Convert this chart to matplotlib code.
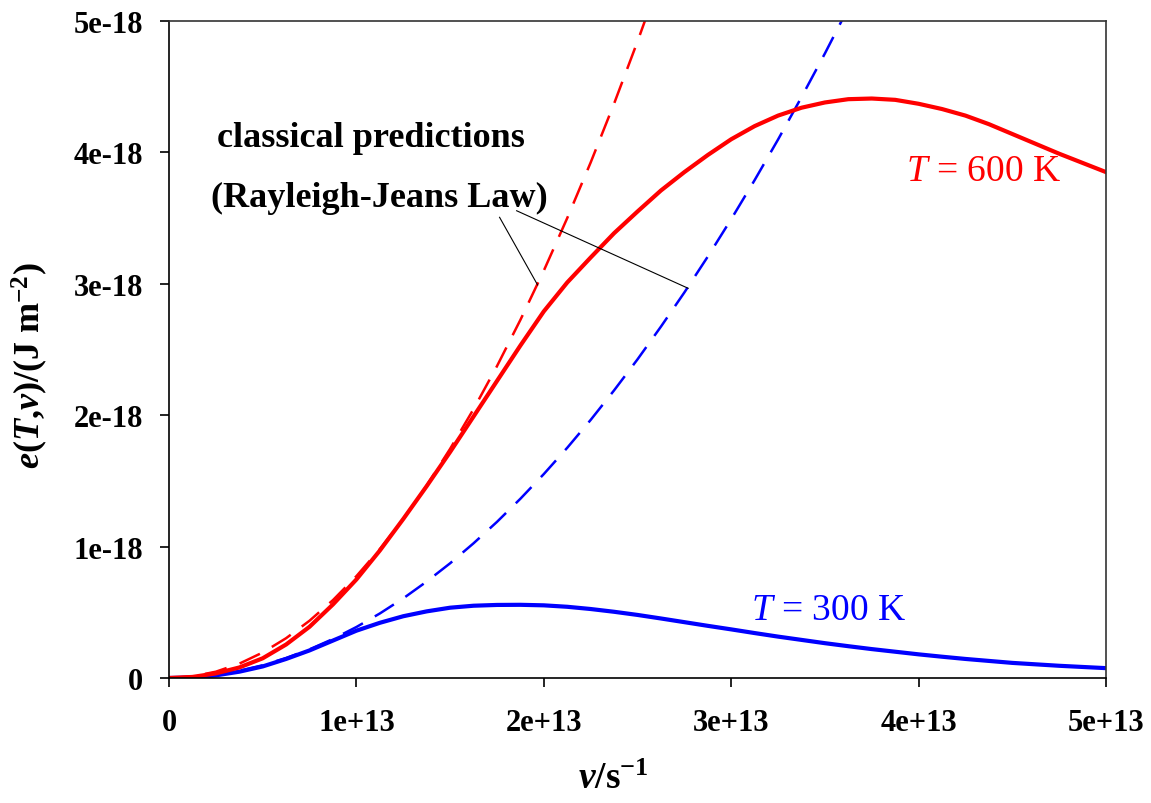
import numpy as np
import matplotlib
matplotlib.use('Agg')
import matplotlib.pyplot as plt

# frequency grid (units of 1e13 s^-1) and curves (units of 1e-18 J m^-2)
nu = [0, 0.125, 0.25, 0.375, 0.5, 0.625, 0.75, 0.875, 1.0, 1.125, 1.25,
      1.375, 1.5, 1.625, 1.75, 1.875, 2.0, 2.125, 2.25, 2.375, 2.5, 2.625,
      2.75, 2.875, 3.0, 3.125, 3.25, 3.375, 3.5, 3.625, 3.75, 3.875, 4.0,
      4.125, 4.25, 4.375, 4.5, 4.625, 4.75, 4.875, 5.0]
e_600 = [0, 0.008, 0.035, 0.08, 0.15, 0.255, 0.39, 0.56, 0.75, 0.97, 1.21,
         1.46, 1.72, 1.99, 2.26, 2.53, 2.79, 3.01, 3.20, 3.385, 3.55, 3.71,
         3.85, 3.98, 4.10, 4.20, 4.28, 4.34, 4.38, 4.405, 4.41, 4.40, 4.37,
         4.33, 4.28, 4.215, 4.14, 4.065, 3.99, 3.92, 3.85]
e_300 = [0, 0.004, 0.02, 0.048, 0.088, 0.145, 0.21, 0.285, 0.36, 0.42, 0.47,
         0.507, 0.535, 0.55, 0.556, 0.557, 0.553, 0.542, 0.525, 0.504, 0.48,
         0.453, 0.425, 0.397, 0.37, 0.342, 0.315, 0.29, 0.265, 0.242, 0.22,
         0.20, 0.18, 0.162, 0.145, 0.13, 0.115, 0.104, 0.093, 0.084, 0.075]

# classical (Rayleigh-Jeans) predictions
nu_rj600 = [0, 0.125, 0.25, 0.375, 0.5, 0.625, 0.75, 0.875, 1.0, 1.125,
            1.25, 1.375, 1.5, 1.625, 1.75, 1.875, 2.0, 2.125, 2.25, 2.375,
            2.5, 2.625]
rj_600 = [0, 0.012, 0.048, 0.109, 0.194, 0.303, 0.436, 0.593, 0.775, 0.981,
          1.211, 1.465, 1.744, 2.046, 2.373, 2.725, 3.10, 3.50, 3.923, 4.371,
          4.844, 5.34]
nu_rj300 = [0, 0.125, 0.25, 0.375, 0.5, 0.625, 0.75, 0.875, 1.0, 1.125,
            1.25, 1.375, 1.5, 1.625, 1.75, 1.875, 2.0, 2.125, 2.25, 2.375,
            2.5, 2.625, 2.75, 2.875, 3.0, 3.125, 3.25, 3.375, 3.5, 3.625]
rj_300 = [0, 0.006, 0.024, 0.055, 0.097, 0.152, 0.218, 0.297, 0.388, 0.491,
          0.606, 0.734, 0.873, 1.025, 1.188, 1.364, 1.552, 1.752, 1.964,
          2.189, 2.425, 2.674, 2.934, 3.207, 3.492, 3.789, 4.098, 4.42,
          4.753, 5.10]

xticks = [0, 1e13, 2e13, 3e13, 4e13, 5e13]
xtick_labels = ['0', '1e+13', '2e+13', '3e+13', '4e+13', '5e+13']
yticks = [0, 1e-18, 2e-18, 3e-18, 4e-18, 5e-18]
ytick_labels = ['0', '1e-18', '2e-18', '3e-18', '4e-18', '5e-18']

plt.rcParams['font.family'] = ['Liberation Serif', 'DejaVu Serif']
plt.rcParams['mathtext.fontset'] = 'custom'
plt.rcParams['mathtext.rm'] = 'Liberation Serif'
plt.rcParams['mathtext.it'] = 'Liberation Serif:italic'
plt.rcParams['mathtext.bf'] = 'Liberation Serif:bold'
plt.rcParams['mathtext.bfit'] = 'Liberation Serif:italic:bold'

x = np.array(nu) * 1e13
fig = plt.figure(figsize=(11.51, 8.04), dpi=100)
ax = fig.add_axes([169 / 1151, 1 - 679 / 804, 937 / 1151, 657 / 804])

dash = (0, (9, 5.5))
ax.plot(np.array(nu_rj600) * 1e13, np.array(rj_600) * 1e-18, color='#ff0000',
        lw=1.8, linestyle=dash)
ax.plot(np.array(nu_rj300) * 1e13, np.array(rj_300) * 1e-18, color='#0000ff',
        lw=1.8, linestyle=dash)
ax.plot(x, np.array(e_300) * 1e-18, color='#0000ff', lw=3.0)
ax.plot(x, np.array(e_600) * 1e-18, color='#ff0000', lw=3.0)

ax.set_xlim(0, 5e13)
ax.set_ylim(0, 5e-18)
ax.set_xticks(xticks)
ax.set_xticklabels(xtick_labels, fontsize=22, fontweight='bold')
ax.set_yticks(yticks)
ax.set_yticklabels(ytick_labels, fontsize=22, fontweight='bold')
ax.tick_params(axis='x', direction='out', length=6.5, width=1.2, pad=15)
ax.tick_params(axis='y', direction='out', length=6.5, width=1.2, pad=12)
for s in ['left', 'bottom']:
    ax.spines[s].set_linewidth(1.2)
for s in ['top', 'right']:
    ax.spines[s].set_linewidth(1.2)
    ax.spines[s].set_color('#333333')

# annotation text and pointer lines
ax.text(1.08e13, 4.11e-18, 'classical predictions', fontsize=26,
        fontweight='bold', ha='center', va='center')
ax.text(1.12e13, 3.66e-18, '(Rayleigh-Jeans Law)', fontsize=26,
        fontweight='bold', ha='center', va='center')
ax.plot([1.764e13, 1.967e13], [3.506e-18, 2.991e-18], color='black', lw=0.8)
ax.plot([1.855e13, 2.77e13], [3.556e-18, 2.966e-18], color='black', lw=0.8)

ax.text(3.933e13, 3.79e-18, r'$T$ = 600 K', fontsize=27, color='#ff0000',
        va='baseline')
ax.text(3.106e13, 0.449e-18, r'$T$ = 300 K', fontsize=27, color='#0000ff',
        va='baseline')

fig.text(30 / 1151, 1 - 366 / 804,
         r'$\mathbfit{e}\mathbf{(}\mathbfit{T}\mathbf{,}\mathbfit{\nu}'
         r'\mathbf{)/(J\ m}^{\mathbf{-2}}\mathbf{)}$',
         fontsize=26, rotation=90, ha='center', va='center')
fig.text(613 / 1151, 1 - 780 / 804, r'$\mathbfit{\nu}\mathbf{/s}^{\mathbf{-1}}$',
         fontsize=27, ha='center', va='center')

plt.savefig('out.png', dpi=100)
